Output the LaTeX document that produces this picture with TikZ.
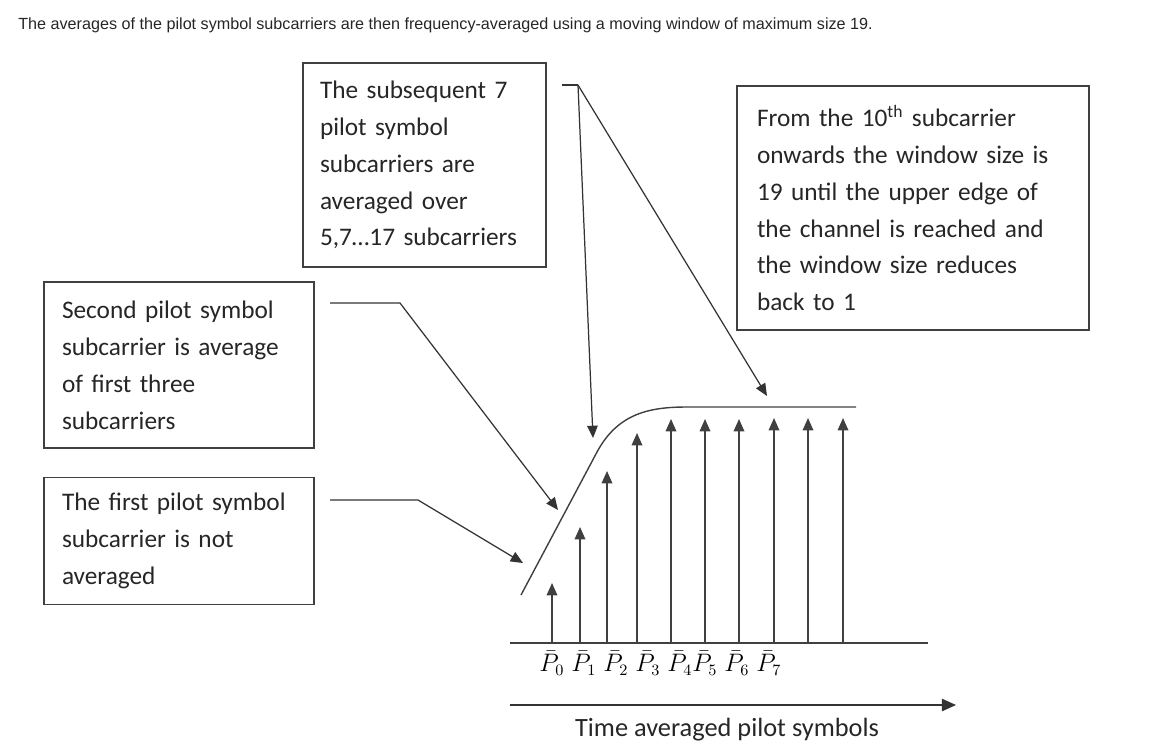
\documentclass[tikz,border=0pt]{standalone}
\usepackage{fontspec}
\setmainfont{Carlito}
\newfontfamily\titlefont{Liberation Sans}
\usetikzlibrary{arrows.meta}

\tikzset{
  note/.style={draw=black!75, line width=0.8pt, align=left, text=black!85,
    inner xsep=17*0.02cm, font=\fontsize{14.4}{21}\selectfont},
  pointer/.style={line width=0.7pt, black!80, -{Triangle[length=7pt,width=6pt]}},
  stem/.style={line width=0.9pt, black!75, -{Triangle[length=7pt,width=6pt]}}
}

\begin{document}
\begin{tikzpicture}[x=0.02cm, y=-0.02cm]
  \useasboundingbox (0,0) rectangle (1176,748);

  \node[anchor=west, font=\titlefont\fontsize{9.2}{10}\selectfont, text=black!85, inner sep=0pt]
    (title) at (18,25) {The averages of the pilot symbol subcarriers are then frequency-averaged using a moving window of maximum size 19.};

  % explanation boxes
  \node[note, minimum width=243*0.02cm, minimum height=204*0.02cm, text width=209*0.02cm]
    (subseq) at (424.5,165) {The subsequent 7\\pilot symbol\\subcarriers are\\averaged over\\5,7\dots17~subcarriers};
  \node[note, minimum width=352*0.02cm, minimum height=244*0.02cm, text width=312*0.02cm]
    (tenth) at (913,208) {From the 10\textsuperscript{th} subcarrier\\onwards the window size is\\19 until the upper edge of\\the channel is reached and\\the window size reduces\\back to 1};
  \node[note, minimum width=270*0.02cm, minimum height=166*0.02cm, text width=234*0.02cm]
    (second) at (179,365) {Second pilot symbol\\subcarrier is average\\of first three\\subcarriers};
  \node[note, minimum width=270*0.02cm, minimum height=127*0.02cm, text width=234*0.02cm]
    (first) at (179,541) {The first pilot symbol\\subcarrier is not\\averaged};

  % connector bends and tips
  \coordinate (s0) at (562,85);
  \coordinate (s1) at (578,85);
  \coordinate (c0) at (330,303);
  \coordinate (c1) at (400,303);
  \coordinate (f0) at (330,500);
  \coordinate (f1) at (418,500);
  \coordinate (tipA) at (593,438);
  \coordinate (tipB) at (767,396);
  \coordinate (tipC) at (558,510);
  \coordinate (tipD) at (523,563);

  \draw[line width=0.7pt, black!80] (s0) -- (s1);
  \draw[pointer] (s1) -- (tipA);
  \draw[pointer] (s1) -- (tipB);
  \draw[pointer] (c0) -- (c1) -- (tipC);
  \draw[pointer] (f0) -- (f1) -- (tipD);

  % window size curve
  \draw[line width=0.8pt, black!75] (521,595) -- (597,452)
    .. controls (618,413) and (650,407) .. (687,407) -- (856,407);

  % baseline and stems
  \draw[line width=0.8pt, black!75] (510,643) -- (928,643);
  \foreach \x/\y in {552/583, 580/527, 607/471, 637/433, 671/419, 705/419, 739/419, 774/418, 808/418, 843/418}
    \draw[stem] (\x,643) -- (\x,\y);

  % labels
  \node[anchor=west, font=\fontsize{13.5}{14}\selectfont, inner sep=0pt] (plabels) at (539,663)
    {$\bar{P}_0\;\bar{P}_1\;\bar{P}_2\;\bar{P}_3\;\bar{P}_4\bar{P}_5\;\bar{P}_6\;\bar{P}_7$};

  % time axis
  \coordinate (t0) at (510,705);
  \coordinate (t1) at (956,705);
  \draw[line width=0.8pt, black!80, -{Triangle[length=8pt,width=7pt]}] (t0) -- (t1);
  \node[font=\fontsize{15}{16}\selectfont, text=black!85] (time) at (727,730) {Time averaged pilot symbols};
\end{tikzpicture}
\end{document}
